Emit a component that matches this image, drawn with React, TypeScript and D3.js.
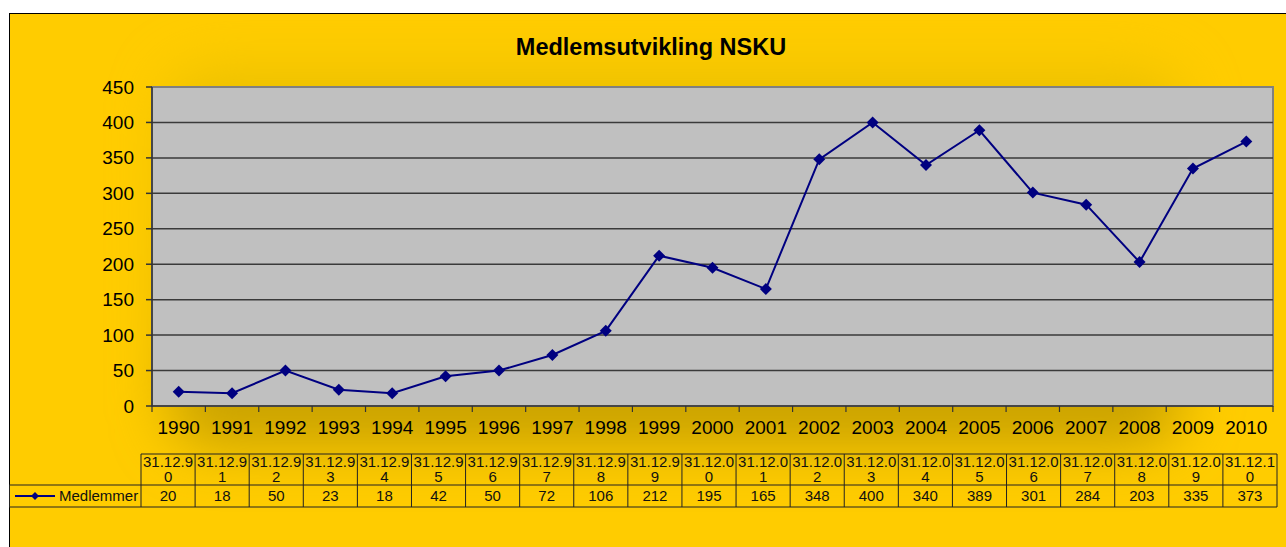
import React from 'react'
import * as d3 from 'd3'

const years = ['1990', '1991', '1992', '1993', '1994', '1995', '1996', '1997', '1998', '1999', '2000',
  '2001', '2002', '2003', '2004', '2005', '2006', '2007', '2008', '2009', '2010']
const dateLine1 = ['31.12.9', '31.12.9', '31.12.9', '31.12.9', '31.12.9', '31.12.9', '31.12.9', '31.12.9',
  '31.12.9', '31.12.9', '31.12.0', '31.12.0', '31.12.0', '31.12.0', '31.12.0', '31.12.0', '31.12.0',
  '31.12.0', '31.12.0', '31.12.0', '31.12.1']
const dateLine2 = ['0', '1', '2', '3', '4', '5', '6', '7', '8', '9', '0', '1', '2', '3', '4', '5', '6', '7', '8', '9', '0']
const members = [20, 18, 50, 23, 18, 42, 50, 72, 106, 212, 195, 165, 348, 400, 340, 389, 301, 284, 203, 335, 373]
const yTicks = [0, 50, 100, 150, 200, 250, 300, 350, 400, 450]
const seriesName = 'Medlemmer'
const title = 'Medlemsutvikling NSKU'

const W = 1286
const H = 547
const plot = { left: 152, right: 1273, top: 87, bottom: 406 }
const table = { left: 141, right: 1277, top: 454, mid: 485, bottom: 507, legendLeft: 9 }
const font = 'Arial, "Liberation Sans", sans-serif'

const App = () => {
  const x = d3.scaleBand().domain(years).range([plot.left, plot.right])
  const y = d3.scaleLinear().domain([0, 450]).range([plot.bottom, plot.top])
  const tx = d3.scaleBand().domain(years).range([table.left, table.right])

  const line = d3.line<number>()
    .x((_, i) => (x(years[i]) as number) + x.bandwidth() / 2)
    .y((d) => y(d))

  const diamond = (cx: number, cy: number, r: number) =>
    `M${cx},${cy - r}L${cx + r},${cy}L${cx},${cy + r}L${cx - r},${cy}Z`

  const bounds = years.map((yr) => x(yr) as number).concat([plot.right])
  const tBounds = years.map((yr) => tx(yr) as number).concat([table.right])

  return (
    <svg width={W} height={H} style={{ position: 'absolute', left: 0, top: 0, display: 'block' }}>
      <defs>
        <linearGradient id="shade" x1="0" y1="0" x2="0" y2="1">
          <stop offset="0" stopColor="#EDC200" />
          <stop offset="0.6" stopColor="#DDB200" />
          <stop offset="1" stopColor="#C29C00" />
        </linearGradient>
        <filter id="blur" x="-20%" y="-30%" width="140%" height="160%">
          <feGaussianBlur stdDeviation="28" />
        </filter>
        <clipPath id="frame">
          <rect x={10} y={14} width={W} height={H} />
        </clipPath>
      </defs>
      <rect x={0} y={0} width={W} height={H} fill="#fff" />
      <rect x={9.5} y={13.5} width={W + 10} height={H} fill="#FFCC00" stroke="#000" strokeWidth={1} />
      <g clipPath="url(#frame)">
        <rect x={170} y={70} width={1010} height={375} rx={40} fill="url(#shade)" filter="url(#blur)" />
      </g>

      <text x={651} y={55} textAnchor="middle" fontFamily={font} fontWeight="bold" fontSize={23.5} fill="#000">
        {title}
      </text>

      {/* plot area */}
      <rect x={plot.left} y={plot.top} width={plot.right - plot.left} height={plot.bottom - plot.top}
        fill="#C0C0C0" stroke="#808080" strokeWidth={2} />
      {yTicks.slice(1, -1).map((t) => (
        <line key={t} x1={plot.left} x2={plot.right} y1={y(t)} y2={y(t)} stroke="#3a3a3a" strokeWidth={1.5} />
      ))}

      {/* y axis */}
      <line x1={plot.left} x2={plot.left} y1={plot.top} y2={plot.bottom} stroke="#333" strokeWidth={1.5} />
      {yTicks.map((t) => (
        <g key={t}>
          <line x1={plot.left - 6} x2={plot.left} y1={y(t)} y2={y(t)} stroke="#333" strokeWidth={1.5} />
          <text x={134} y={y(t) + 6.5} textAnchor="end" fontFamily={font} fontSize={19} fill="#000">{t}</text>
        </g>
      ))}

      {/* x axis */}
      <line x1={plot.left} x2={plot.right} y1={plot.bottom} y2={plot.bottom} stroke="#333" strokeWidth={1.5} />
      {bounds.map((b, i) => (
        <line key={i} x1={b} x2={b} y1={plot.bottom} y2={plot.bottom + 6} stroke="#333" strokeWidth={1.2} />
      ))}
      {years.map((yr) => (
        <text key={yr} x={(x(yr) as number) + x.bandwidth() / 2} y={434} textAnchor="middle"
          fontFamily={font} fontSize={19} fill="#000">{yr}</text>
      ))}

      {/* series */}
      <path d={line(members) || ''} fill="none" stroke="#000080" strokeWidth={2} />
      {members.map((m, i) => (
        <path key={i} d={diamond((x(years[i]) as number) + x.bandwidth() / 2, y(m), 6)} fill="#000080" />
      ))}

      {/* data table */}
      <g stroke="#222" strokeWidth={1}>
        <line x1={table.left} x2={table.right} y1={table.top} y2={table.top} />
        <line x1={table.legendLeft} x2={table.right} y1={table.mid} y2={table.mid} />
        <line x1={table.legendLeft} x2={table.right} y1={table.bottom} y2={table.bottom} />
        <line x1={table.legendLeft + 0.5} x2={table.legendLeft + 0.5} y1={table.mid} y2={table.bottom} />
        {tBounds.map((b, i) => (
          <line key={i} x1={b} x2={b} y1={table.top} y2={table.bottom} />
        ))}
      </g>
      {years.map((yr, i) => {
        const cx = (tx(yr) as number) + tx.bandwidth() / 2
        return (
          <g key={yr} fontFamily={font} fontSize={15} fill="#111" textAnchor="middle">
            <text x={cx} y={467}>{dateLine1[i]}</text>
            <text x={cx} y={482}>{dateLine2[i]}</text>
            <text x={cx} y={501}>{members[i]}</text>
          </g>
        )
      })}
      <line x1={15} x2={55} y1={496} y2={496} stroke="#000080" strokeWidth={2} />
      <path d={diamond(35, 496, 4)} fill="#000080" />
      <text x={59} y={501} fontFamily={font} fontSize={15} fill="#111">{seriesName}</text>
    </svg>
  )
}

export default App
